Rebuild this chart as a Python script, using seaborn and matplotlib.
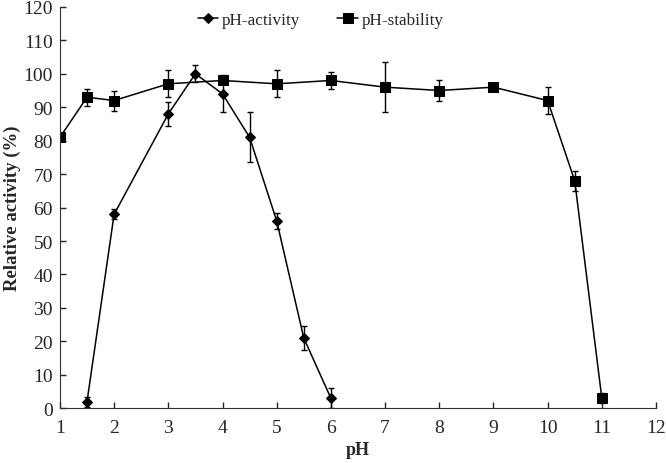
import numpy as np
import pandas as pd
import matplotlib
matplotlib.use("Agg")
import matplotlib.pyplot as plt
import seaborn as sn

# Datos
phActividad = [1.5, 2, 3, 3.5, 4, 4.5, 5, 5.5, 6]
actividad = [2, 58, 88, 100, 94, 81, 56, 21, 3]
errActividad = [1.5, 1.5, 3.5, 2.5, 5.5, 7.5, 2.5, 3.5, 3]

phEstabilidad = [1, 1.5, 2, 3, 4, 5, 6, 7, 8, 9, 10, 10.5, 11]
estabilidad = [81, 93, 92, 97, 98, 97, 98, 96, 95, 96, 92, 68, 3]
errEstabilidad = [1, 2.5, 3, 4, 1, 4, 2.5, 7.5, 3, 1, 4, 3, 1.5]

sn.set_style("ticks")
plt.rcParams['font.family'] = ['Liberation Serif', 'DejaVu Serif']
plt.rcParams['xtick.direction'] = 'in'
plt.rcParams['ytick.direction'] = 'in'

dfAct = pd.DataFrame({"pH": phActividad, "valor": actividad})
dfEst = pd.DataFrame({"pH": phEstabilidad, "valor": estabilidad})

fig, ax = plt.subplots(figsize=(6.66, 4.64), dpi=100)
fig.subplots_adjust(left=0.09, right=0.985, bottom=0.118, top=0.983)

ax.errorbar(phActividad, actividad, yerr=errActividad, fmt='none',
            ecolor='black', elinewidth=1, capsize=2, capthick=1)
ax.errorbar(phEstabilidad, estabilidad, yerr=errEstabilidad, fmt='none',
            ecolor='black', elinewidth=1, capsize=2, capthick=1)

sn.lineplot(data=dfAct, x="pH", y="valor", ax=ax, color='black', lw=1.1,
            marker='D', markersize=5, markeredgecolor='black', label='pH-activity')
sn.lineplot(data=dfEst, x="pH", y="valor", ax=ax, color='black', lw=1.1,
            marker='s', markersize=7, markeredgecolor='black', label='pH-stability')

ax.set_xlim(1, 12)
ax.set_ylim(0, 120)
ax.set_xticks(np.arange(1, 13, 1))
ax.set_yticks(np.arange(0, 121, 10))
ax.tick_params(labelsize=14, length=4, width=1)
ax.tick_params(axis='x', pad=8)
ax.tick_params(axis='y', pad=5)
ax.spines['top'].set_visible(False)
ax.spines['right'].set_visible(False)
ax.spines['left'].set_color('#333333')
ax.spines['bottom'].set_color('#333333')

ax.set_xlabel("pH", fontsize=13, fontweight='bold', labelpad=3)
ax.set_ylabel("Relative activity (%)", fontsize=13.5, fontweight='bold', labelpad=2)

ax.legend(loc='upper center', ncol=2, frameon=False, fontsize=12.3,
          bbox_to_anchor=(0.437, 1.025), handlelength=1.2, columnspacing=2.2,
          handletextpad=0.2)

plt.savefig("out.png", dpi=100)
